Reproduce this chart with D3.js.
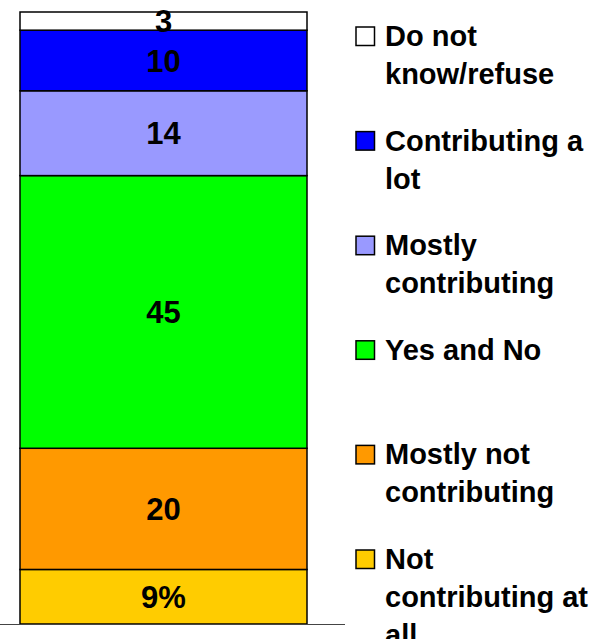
<!DOCTYPE html>
<html>
<head>
<meta charset="utf-8">
<script src="https://cdn.jsdelivr.net/npm/d3@7"></script>
<style>
  html, body { margin: 0; padding: 0; background: #fff; }
  svg { display: block; }
  text { font-family: "Liberation Sans", Arial, sans-serif; font-weight: bold; fill: #000; }
</style>
</head>
<body>
<script>
// Data, bottom of the stack first
const categories = ["Not contributing at all", "Mostly not contributing", "Yes and No", "Mostly contributing", "Contributing a lot", "Do not know/refuse"];
const values = [9, 20, 45, 14, 10, 3];
const valueLabels = ["9%", "20", "45", "14", "10", "3"];
const colors = ["#FFCC00", "#FF9900", "#00FF00", "#9999FF", "#0000FF", "#FFFFFF"];
// Legend (top to bottom), wrapped lines
const legendLines = [
  ["Do not", "know/refuse"],
  ["Contributing a", "lot"],
  ["Mostly", "contributing"],
  ["Yes and No"],
  ["Mostly not", "contributing"],
  ["Not", "contributing at", "all"]
];
const legendColors = ["#FFFFFF", "#0000FF", "#9999FF", "#00FF00", "#FF9900", "#FFCC00"];

const W = 593, H = 639;
const svg = d3.select("body").append("svg").attr("width", W).attr("height", H);

const total = d3.sum(values);
const y = d3.scaleLinear().domain([0, total]).range([624, 12]);
const x = d3.scaleBand().domain(["bar"]).range([20, 307]).padding(0);

let cum = 0;
const segs = values.map((v, i) => { const s = { i, v, y0: cum, y1: cum + v }; cum += v; return s; });

svg.selectAll("rect.seg").data(segs).enter().append("rect")
  .attr("class", "seg")
  .attr("x", x("bar"))
  .attr("width", x.bandwidth())
  .attr("y", d => y(d.y1))
  .attr("height", d => y(d.y0) - y(d.y1))
  .attr("fill", d => colors[d.i])
  .attr("stroke", "#000")
  .attr("stroke-width", 1.5);

// baseline
svg.append("line").attr("x1", 0).attr("x2", 345).attr("y1", y(0) + 0.5).attr("y2", y(0) + 0.5)
  .attr("stroke", "#444").attr("stroke-width", 1.2);

svg.selectAll("text.val").data(segs).enter().append("text")
  .attr("class", "val")
  .attr("x", x("bar") + x.bandwidth() / 2)
  .attr("y", d => y((d.y0 + d.y1) / 2))
  .attr("dy", "0.36em")
  .attr("text-anchor", "middle")
  .style("font-size", "31px")
  .text(d => valueLabels[d.i]);

// Legend
const lg = svg.append("g");
const ly = d3.scaleLinear().domain([0, legendLines.length - 1]).range([46, 569]);
legendLines.forEach((lines, i) => {
  const by = ly(i);
  lg.append("rect").attr("x", 356).attr("y", by - 19).attr("width", 18.5).attr("height", 18.5)
    .attr("fill", legendColors[i]).attr("stroke", "#000").attr("stroke-width", 1.5);
  const t = lg.append("text").attr("x", 385).attr("y", by).style("font-size", "29px");
  lines.forEach((l, j) => {
    t.append("tspan").attr("x", 385).attr("y", by + j * 38).text(l);
  });
});
</script>
</body>
</html>
